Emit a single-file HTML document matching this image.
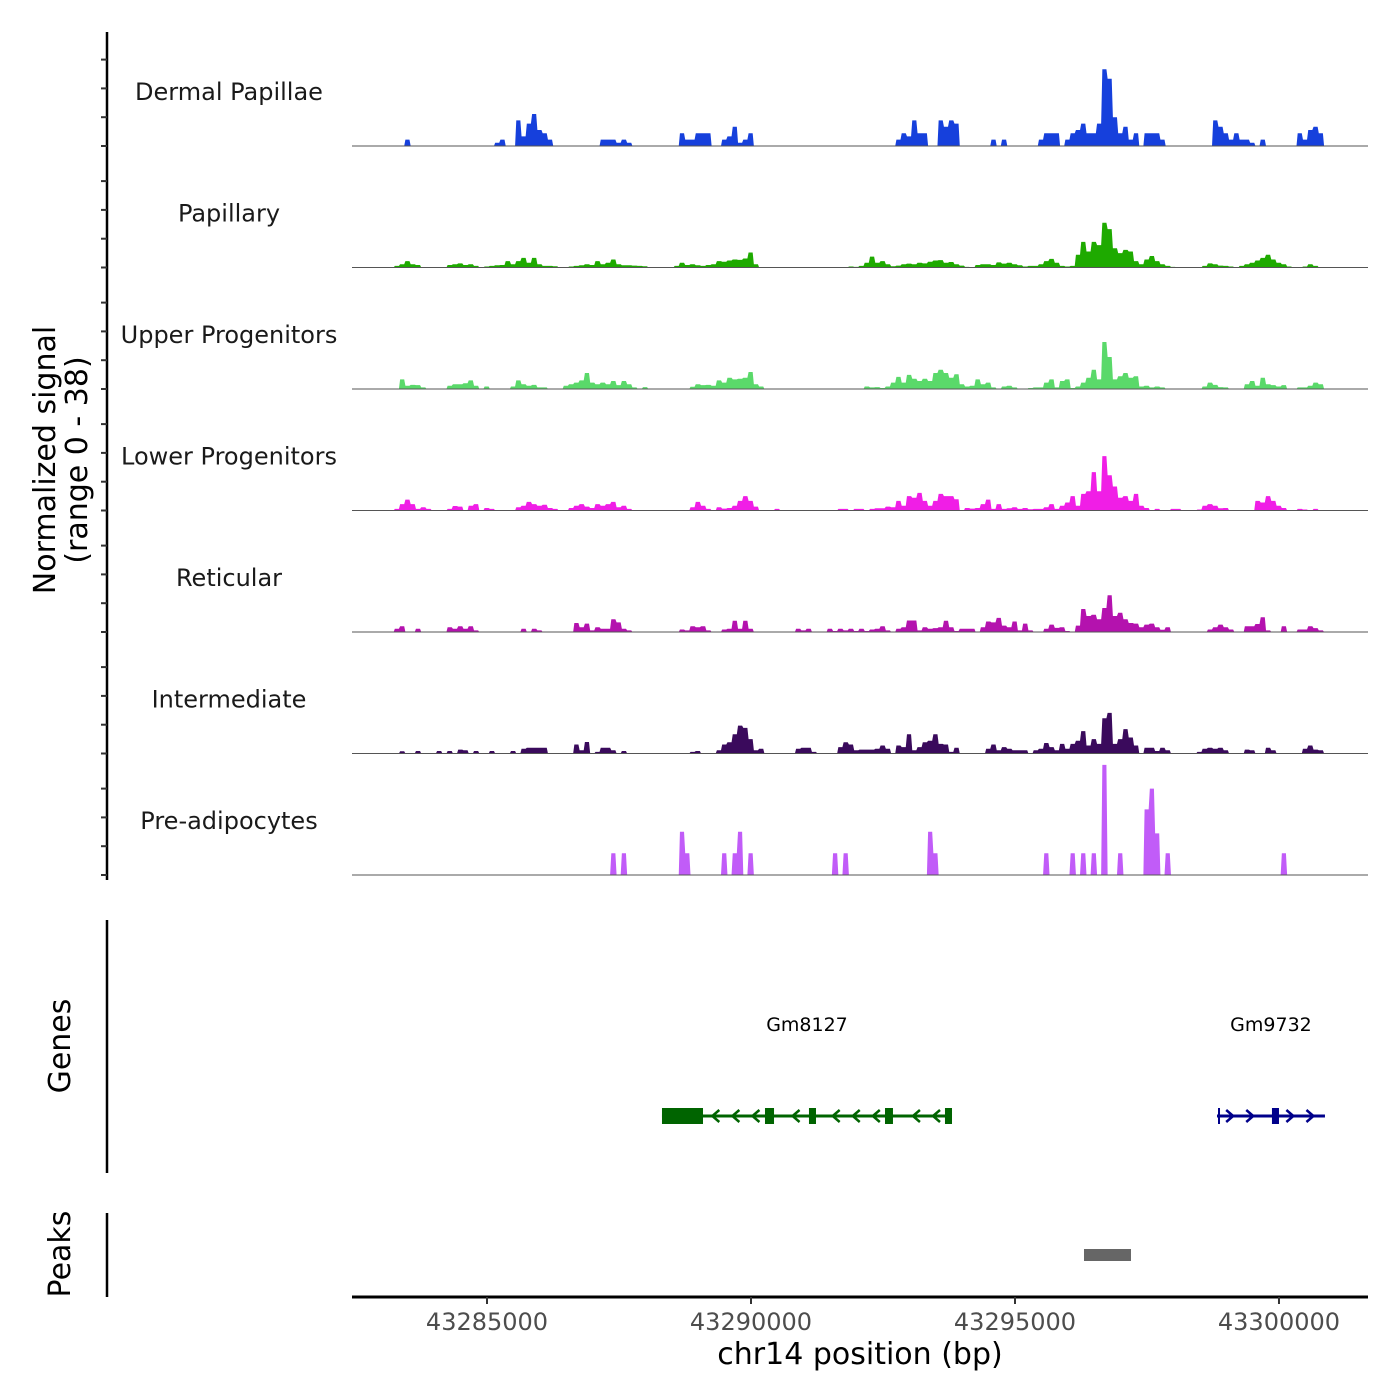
<!DOCTYPE html>
<html><head><meta charset="utf-8"><style>
html,body{margin:0;padding:0;background:#fff;}
svg{display:block;font-family:"DejaVu Sans","Liberation Sans",sans-serif;}
</style></head><body>
<svg id="chart" width="1400" height="1400" viewBox="0 0 1400 1400">
  <g id="tracks"></g>
  <g id="labels"></g>
  <line x1="107" y1="32" x2="107" y2="880" stroke="#000" stroke-width="2.5"/>
  <g id="yticks"></g>
  <text transform="translate(55,460) rotate(-90)" text-anchor="middle" font-size="30" fill="#000">Normalized signal</text>
  <text transform="translate(87,460) rotate(-90)" text-anchor="middle" font-size="30" fill="#000">(range 0 - 38)</text>
  <line x1="107" y1="920" x2="107" y2="1173" stroke="#000" stroke-width="2.5"/>
  <text transform="translate(70,1046) rotate(-90)" text-anchor="middle" font-size="30" fill="#000">Genes</text>
  <g id="genes"></g>
  <line x1="107" y1="1213" x2="107" y2="1297" stroke="#000" stroke-width="2.5"/>
  <text transform="translate(70,1254) rotate(-90)" text-anchor="middle" font-size="30" fill="#000">Peaks</text>
  <g id="peaks"></g>
  <line x1="352" y1="1297" x2="1368" y2="1297" stroke="#000" stroke-width="3"/>
  <g id="xticks"></g>
  <text x="860" y="1364" text-anchor="middle" font-size="30" fill="#000">chr14 position (bp)</text>
</svg>
<script>
const regionStart = 43282443;
const regionEnd = 43301686;
const binSize = 100;
const trackNames = ["Dermal Papillae","Papillary","Upper Progenitors","Lower Progenitors","Reticular","Intermediate","Pre-adipocytes"];
const trackColors = ["#1640dc","#1eaa00","#5ad96a","#f01ee6","#b412ae","#3a0a5c","#c15cf8"];
const dermalPapillae = [
0,0,0,0,0,0,0,0,0,0, 2,0,0,0,0,0,0,0,0,0, 0,0,0,0,0,0,0,1,2,0, 0,8,3,7,10,5,4,2,0,0,
0,0,0,0,0,0,0,2,2,2, 1,2,1,0,0,0,0,0,0,0, 0,0,4,2,2,4,4,4,0,0, 2,3,6,1,2,4,0,0,0,0,
0,0,0,0,0,0,0,0,0,0, 0,0,0,0,0,0,0,0,0,0, 0,0,0,2,4,3,8,4,4,0, 0,8,6,8,7,0,0,0,0,0,
0,2,0,2,0,0,0,0,0,0, 2,4,4,4,0,2,4,5,7,4, 4,7,24,21,9,4,6,2,4,0, 4,4,4,2,0,0,0,0,0,0,
0,0,0,8,6,4,2,4,2,2, 1,0,2,0,0,0,0,0,0,4, 2,5,6,4,0,0,0,0,0,0, 0,0];
const papillary = [
0,0,0,0,0,0,0,0,0.5,1, 2,1,0.8,0,0,0,0,0,0.8,1, 1.3,0.8,1,0.5,0,0.3,0.5,0.7,0.8,2, 1,2,3,1.5,3,1,0.5,0.5,0.4,0,
0,0.3,0.5,0.7,1,0.8,2,1,1.5,2.5, 1,0.7,0.7,0.6,0.5,0.4,0,0,0,0, 0,0.5,1.5,0.8,1,0.7,0.5,0.8,1,2, 1.8,2.2,2.5,2.4,2.8,4.7,1,0,0,0,
0,0,0,0,0,0,0,0,0,0, 0,0,0,0,0.3,0.2,0.5,1.5,3.4,1.5, 2,1,0.4,0.6,1,1.2,1,1.5,1.3,1.8, 2.2,2.3,1.5,1.7,1,0.6,0.2,0,0.8,1,
1,0.8,1.6,1.2,1.5,1,0.7,0.3,0.5,0.5, 1,2,2.7,1.5,0.5,0.3,0.5,4,8,5, 8,7,14,12,6,4.5,5.5,5,2,1, 2.5,3.6,2,1,0.5,0.2,0,0,0,0,
0,0.5,1.3,1,0.6,0.5,0.3,0,0.5,1, 1.5,2.2,3,4,2.5,1.5,1,0.3,0,0, 0.3,1,0.5,0,0,0,0,0,0,0, 0,0];
const upperProgenitors = [
0,0,0,0,0,0,0,0,0,3, 1,1.3,1.2,0.5,0,0,0,0,1,1.5, 1.5,1.8,2.7,1,0,0.8,0,0,0,0, 0.8,2.7,1.5,1,1.3,0.5,0.5,0,0,0,
1,1.5,2,2.7,5,2,1.5,2,1.5,2.5, 1.2,2.5,1.5,0.5,0,0.6,0,0,0,0, 0,0,0,0,0.7,1.5,1.2,1.3,1,2.7, 2,3.5,3,3.2,3.5,5.3,1.5,0.8,0,0,
0,0,0,0,0,0,0,0,0,0, 0,0,0,0,0,0,0,0.8,0.5,0.6, 0.3,0.8,2,3.8,2,4.4,3.2,2.5,3.2,2.5, 5,6,5,3.5,4.6,1.5,0.8,1,3,1.5,
2,0.5,0,0.8,1,0.5,0,0,0.3,0.5, 0.5,2,3,0.5,2.5,3,0.3,0.8,2,3.5, 6,3,14.7,10,3,4,5,3.5,4,0.8, 1,0.5,0.8,0.5,0,0,0,0,0,0,
0,0.8,2,1.3,0.6,0.5,0,0,0,1.5, 2.5,1,3.5,1.5,1.2,0.8,1.2,0,0,0.5, 0.5,1,2,1.5,0,0,0,0,0,0, 0,0];
const lowerProgenitors = [
0,0,0,0,0,0,0,0,0.5,2, 3.4,2,0.5,1,0.5,0,0,0,0.5,1.4, 1.2,0,1.5,2,0,0.8,0.5,0,0,0, 0,1,1.5,2.7,2,1.5,1.8,0.8,0.5,0,
0,0.8,1.5,2,1.2,0.8,2,1.5,2,2.7, 1,1.5,0.5,0,0,0,0,0,0,0, 0,0,0,0,1,2.7,1.5,0.5,0,1, 0.6,0.8,1.5,3,4.5,3,1.2,0,0,0,
0.5,0,0,0,0,0,0,0,0,0, 0,0,0.5,0.5,0,0.5,0.5,0,0.5,0.7, 0.7,1.2,1,3,1.5,4.5,4,5.5,3,1.5, 3,5.2,4.5,4.5,3.5,0,0.8,0.6,0.8,2,
3.4,0.5,2,0.5,0.7,1,0.5,0.8,0.4,0.5, 0.5,1,2,0.5,1.5,2.5,4.5,1.5,5.2,6, 12,6,17,11,7.5,4,4.5,3,5.2,1.5, 0.8,0,0.5,0,0,0.5,0.5,0,0,0,
0.3,1.5,2,1.5,0.7,0.8,0,0,0,0, 0,3,2.5,4.5,3,1.5,0.8,0,0,0.5, 0.3,0,0.5,0,0,0,0,0,0,0, 0,0];
const reticular = [
0,0,0,0,0,0,0,0,1,1.8, 0,0,1,0,0,0,0,0,1.5,1, 1.8,1,1.8,0.5,0,0,0,0,0,0, 0,0,1,0,1,0.5,0,0,0,0,
0,0,2.8,1.5,2.6,0.5,1.5,1,1,4, 3,1,0.5,0,0,0,0,0,0,0, 0,0,0.8,0.5,1.8,1.5,1.8,0.5,0,0, 0.8,1,3.5,1,3.5,1,0,0,0,0,
0,0,0,0,1,0.5,1,0,0,0, 1,0.3,1,0.5,1,0.3,1,0.3,0.8,1, 1.8,0.5,0,1,1.5,3.6,3.6,0.5,1.5,1, 1.2,1.5,3.5,1.5,0.3,1,1,1,0,1.5,
3.3,3,4.4,2,1.5,3.3,0.5,2.6,0.5,0, 0,1,2.3,1.3,1.5,0.3,0,2,7.2,5, 5.4,4,7.5,11.5,5,6,4,2.8,2.6,1.5, 2.3,2.6,1.5,0.7,1.5,0,0,0,0,0,
0,0,0.8,1.5,2.3,1.5,0.8,0,0,1.8, 1.8,2.5,4.6,0.5,0,0,1.8,0,0,0.8, 0.8,1.8,1.2,0.5,0,0,0,0,0,0, 0,0];
const intermediate = [
0,0,0,0,0,0,0,0,0,0.7, 0,0,0.8,0,0,0,0.8,0,0.8,0, 1.2,1,0,0.8,0,0,0.8,0,0,0, 0.8,0,1.5,1.8,1.8,1.8,1.8,0,0,0,
0,0,2.8,1,3.6,0,0.5,1.8,1.8,1, 0,0.8,0,0,0,0,0,0,0,0, 0,0,0,0,0.5,0.8,0,0,0,1, 2.8,3.5,6,8.7,8,4.5,1,1.5,0,0,
0,0,0,0,1.5,1.8,1.8,0.5,0,0, 0,0,2,3.5,2.8,1,1.2,1.2,1.2,1.5, 2.5,1.5,0,2.5,2,6,1,2,3.5,4, 6,3,2.8,0.5,1.8,0,0,0,0,0,
1.5,2.8,1,2,1.5,1,1,1,0,1, 1.5,3.3,2,1,3,1.5,3,4,7,2.5, 4.5,3,11,12.7,3,4.5,7.6,5,2.5,0, 1.8,1.8,0.8,1.8,1,0,0,0,0,0,
0.5,1.5,1.8,1.5,1.8,1,0,0,0,1.2, 1,0,0,1.8,1,0,0,0,0,0, 1.5,2.5,1.2,1,0,0,0,0,0,0, 0,0];
const preAdipocytes = [
0,0,0,0,0,0,0,0,0,0, 0,0,0,0,0,0,0,0,0,0, 0,0,0,0,0,0,0,0,0,0, 0,0,0,0,0,0,0,0,0,0,
0,0,0,0,0,0,0,0,0,6.8, 0,6.8,0,0,0,0,0,0,0,0, 0,0,13.5,6.8,0,0,0,0,0,0, 6.8,0,6.8,13.5,0,6.8,0,0,0,0,
0,0,0,0,0,0,0,0,0,0, 0,6.8,0,6.8,0,0,0,0,0,0, 0,0,0,0,0,0,0,0,0,13.5, 6.8,0,0,0,0,0,0,0,0,0,
0,0,0,0,0,0,0,0,0,0, 0,6.8,0,0,0,0,6.8,0,6.8,0, 6.8,0,34.4,0,0,6.8,0,0,0,0, 20.5,27,13,0,6.8,0,0,0,0,0,
0,0,0,0,0,0,0,0,0,0, 0,0,0,0,0,0,6.8,0,0,0, 0,0,0,0,0,0,0,0,0,0, 0,0];
const trackValues = [dermalPapillae, papillary, upperProgenitors, lowerProgenitors, reticular, intermediate, preAdipocytes];
const yTickValues = [0, 9, 18, 27];
const xTickValues = [43285000, 43290000, 43295000, 43300000];
const xTickLabels = ["43285000", "43290000", "43295000", "43300000"];
const geneNames = ["Gm8127", "Gm9732"];
const geneStarts = [43288314, 43298826];
const geneEnds = [43293807, 43300871];
const geneStrands = ["-", "+"];
const geneColors = ["#006400", "#00008b"];
const exonStarts = [[43288314, 43290265, 43291098, 43292538, 43293674], [43298845, 43299867]];
const exonEnds = [[43289091, 43290436, 43291231, 43292689, 43293807], [43298883, 43300000]];
const peakStarts = [43296307];
const peakEnds = [43297197];

const NS = "http://www.w3.org/2000/svg";
const plotLeft = 352, plotRight = 1368;
function xScale(bp){ return plotLeft + (bp - regionStart) * (plotRight - plotLeft) / (regionEnd - regionStart); }
const firstBase = 146, trackStep = 121.5, pxPerUnit = 3.2;
function yScale(v, base){ return base - v * pxPerUnit; }
function mk(tag, attrs){ const e = document.createElementNS(NS, tag); for (const k in attrs) e.setAttribute(k, attrs[k]); return e; }

const gT = document.getElementById("tracks");
const gL = document.getElementById("labels");
const gY = document.getElementById("yticks");
trackNames.forEach((name, t) => {
  const base = firstBase + t * trackStep;
  const vals = trackValues[t];
  const nb = Math.round((regionEnd - regionStart) / binSize) + 1;
  let d = "M" + xScale(regionStart).toFixed(2) + "," + base;
  for (let i = 0; i < nb; i++) {
    const v = vals[i] || 0;
    let xs = xScale(regionStart + i * binSize), xe = xScale(regionStart + (i + 1) * binSize);
    xe = Math.min(xe, plotRight);
    if (xs >= plotRight) break;
    const y = yScale(v, base).toFixed(2);
    d += "L" + (xs + 0.6).toFixed(2) + "," + y + "L" + (xe - 0.6).toFixed(2) + "," + y;
  }
  d += "L" + plotRight + "," + base + "Z";
  const p = mk("path", {d: d, fill: trackColors[t], stroke: "none"});
  
  
  gT.appendChild(p);
  const bl = mk("line", {x1: plotLeft, x2: plotRight, y1: base, y2: base, stroke: "#555", "stroke-width": 1});
  
  
  gT.appendChild(bl);
  const lb = mk("text", {x: 229, y: base - 46, "text-anchor": "middle", "font-size": 24, fill: "#1a1a1a"});
  lb.textContent = name;
  
  
  gL.appendChild(lb);
  yTickValues.forEach(v => {
    const y = yScale(v, base);
    const tk = mk("line", {x1: 101, x2: 107, y1: y, y2: y, stroke: "#333", "stroke-width": 2});
    
    
    gY.appendChild(tk);
  });
});

const gG = document.getElementById("genes");
const geneY = 1116;
geneNames.forEach((g, i) => {
  const col = geneColors[i];
  const x0 = xScale(geneStarts[i]), x1 = xScale(geneEnds[i]);
  const ln = mk("line", {x1: x0, x2: x1, y1: geneY, y2: geneY, stroke: col, "stroke-width": 3});
  
  
  gG.appendChild(ln);
  for (let bp = geneStarts[i] + 250; bp < geneEnds[i] - 100; bp += 380) {
    let inEx = false;
    exonStarts[i].forEach((s, k) => { if (bp > s - 80 && bp < exonEnds[i][k] + 80) inEx = true; });
    if (inEx) continue;
    const x = xScale(bp), dir = geneStrands[i] === "-" ? -1 : 1;
    const ch = mk("path", {d: `M${x - 4*dir},${geneY - 6}L${x + 3*dir},${geneY}L${x - 4*dir},${geneY + 6}`, fill: "none", stroke: col, "stroke-width": 2.5});
    
    
    gG.appendChild(ch);
  }
  exonStarts[i].forEach((s, k) => {
    const xs = xScale(s), xe = xScale(exonEnds[i][k]);
    const r = mk("rect", {x: xs, y: geneY - 8, width: Math.max(2, xe - xs), height: 16, fill: col});
    
    
    gG.appendChild(r);
  });
  const t = mk("text", {x: (x0 + x1) / 2, y: 1031, "text-anchor": "middle", "font-size": 19, fill: "#000"});
  t.textContent = g;
  
  
  gG.appendChild(t);
});

const gP = document.getElementById("peaks");
peakStarts.forEach((s, i) => {
  const xs = xScale(s), xe = xScale(peakEnds[i]);
  const r = mk("rect", {x: xs, y: 1249, width: xe - xs, height: 12, fill: "#666"});
  
  
  gP.appendChild(r);
});

const gX = document.getElementById("xticks");
xTickValues.forEach((v, i) => {
  const x = xScale(v);
  const tk = mk("line", {x1: x, x2: x, y1: 1297, y2: 1304, stroke: "#333", "stroke-width": 2});
  
  
  gX.appendChild(tk);
  const t = mk("text", {x: x, y: 1330, "text-anchor": "middle", "font-size": 24, fill: "#4d4d4d"});
  t.textContent = xTickLabels[i];
  
  
  gX.appendChild(t);
});
</script>
</body></html>
